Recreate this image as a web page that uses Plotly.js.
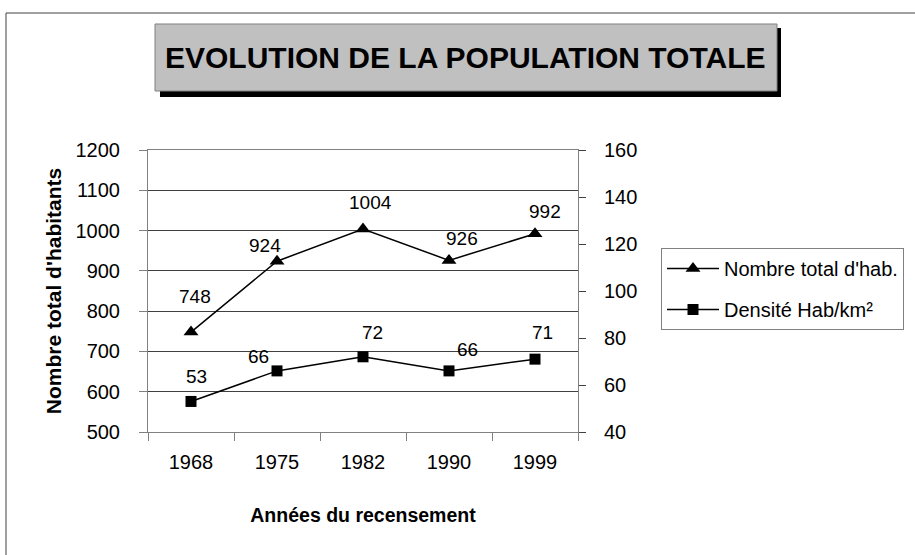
<!DOCTYPE html>
<html><head><meta charset="utf-8">
<script src="https://cdn.plot.ly/plotly-3.0.1.min.js"></script>
<style>html,body{margin:0;padding:0;background:#fff}#chart{width:915px;height:555px}</style>
</head><body><div id="chart"></div>
<script>
// ---- data ----
const years = ["1968", "1975", "1982", "1990", "1999"];
const population = [748, 924, 1004, 926, 992];
const density = [53, 66, 72, 66, 71];
const popName = "Nombre total d'hab.";
const densName = "Densité Hab/km²";

// ---- label offsets (px) for data labels, [dx, dy-up] ----
const popLabelShift = [[4,36],[-12,16],[7,26],[13,22],[10,22]];
const densLabelShift = [[5,25],[-19,14],[9,24],[18,21],[7,27]];

const FONT = "'Liberation Sans', Arial, sans-serif";
const W = 915, H = 555;
const L = 148, R = 578, T = 150, B = 432;
const px = x => (x - L) / (R - L);
const py = y => (B - y) / (B - T);

const traces = [
  {x: years, y: population, name: popName, type: 'scatter', mode: 'lines+markers', legendgroup: 'a',
   line: {color: '#000', width: 1.5}, marker: {symbol: 'triangle-up', size: 13, color: '#000'}, yaxis: 'y'},
  {x: years, y: density, name: densName, type: 'scatter', mode: 'lines+markers', legendgroup: 'b',
   line: {color: '#000', width: 1.5}, marker: {symbol: 'square', size: 11, color: '#000'}, yaxis: 'y2'}
];

const annotations = [];
years.forEach((yr, i) => {
  annotations.push({x: i, y: population[i], xref: 'x', yref: 'y', text: String(population[i]),
    showarrow: false, xshift: popLabelShift[i][0], yshift: popLabelShift[i][1],
    xanchor: 'center', yanchor: 'middle', font: {family: FONT, size: 19, color: '#000'}});
  annotations.push({x: i, y: density[i], xref: 'x', yref: 'y2', text: String(density[i]),
    showarrow: false, xshift: densLabelShift[i][0], yshift: densLabelShift[i][1],
    xanchor: 'center', yanchor: 'middle', font: {family: FONT, size: 19, color: '#000'}});
});
annotations.push({x: px((163 + 768) / 2), y: py(57), xref: 'paper', yref: 'paper',
  text: '<b>EVOLUTION DE LA POPULATION TOTALE</b>', showarrow: false,
  xanchor: 'center', yanchor: 'middle', font: {family: FONT, size: 30, color: '#000'}});

const shapes = [
  {type: 'rect', xref: 'paper', yref: 'paper', x0: px(6), x1: px(925), y0: py(13), y1: py(565),
   line: {color: '#404040', width: 1}, fillcolor: 'rgba(0,0,0,0)', layer: 'below'},
  {type: 'rect', xref: 'paper', yref: 'paper', x0: px(160), x1: px(781), y0: py(28), y1: py(97),
   line: {width: 0}, fillcolor: '#000', layer: 'above'},
  {type: 'rect', xref: 'paper', yref: 'paper', x0: px(155), x1: px(777), y0: py(24), y1: py(91),
   line: {color: '#808080', width: 1}, fillcolor: '#c0c0c0', layer: 'above'}
];

const axisFont = {family: FONT, size: 20, color: '#000'};
const layout = {
  width: W, height: H,
  margin: {l: L, r: W - R, t: T, b: H - B, pad: 0, autoexpand: false},
  paper_bgcolor: '#fff', plot_bgcolor: '#fff',
  showlegend: true,
  legend: {x: px(661), y: py(248), xanchor: 'left', yanchor: 'top', traceorder: 'grouped',
    tracegroupgap: 12, bordercolor: '#808080', borderwidth: 1, bgcolor: '#fff',
    font: {family: FONT, size: 20, color: '#000'}, itemwidth: 52},
  xaxis: {type: 'category', range: [-0.5, 4.5], tickson: 'boundaries',
    ticks: 'outside', ticklen: 8, tickcolor: '#808080', showline: true, linecolor: '#808080',
    mirror: true, showgrid: false, zeroline: false, tickfont: axisFont, ticklabelstandoff: 12,
    title: {text: '<b>Années du recensement</b>', font: {family: FONT, size: 19.5, color: '#000'}, standoff: 36}},
  yaxis: {range: [500, 1200], dtick: 100, ticks: 'outside', ticklen: 8, tickcolor: '#808080',
    showline: true, linecolor: '#808080', showgrid: true, gridcolor: '#404040', gridwidth: 1,
    zeroline: false, tickfont: axisFont, ticklabelstandoff: 15,
    title: {text: "<b>Nombre total d'habitants</b>", font: {family: FONT, size: 21, color: '#000'}, standoff: 8}},
  yaxis2: {range: [40, 160], dtick: 20, overlaying: 'y', side: 'right', ticks: 'outside', ticklen: 7,
    tickcolor: '#404040', showline: true, linecolor: '#808080', showgrid: false, zeroline: false,
    tickfont: axisFont, ticklabelstandoff: 14},
  annotations: annotations,
  shapes: shapes
};

Plotly.newPlot('chart', traces, layout, {staticPlot: true, displayModeBar: false});
</script></body></html>
